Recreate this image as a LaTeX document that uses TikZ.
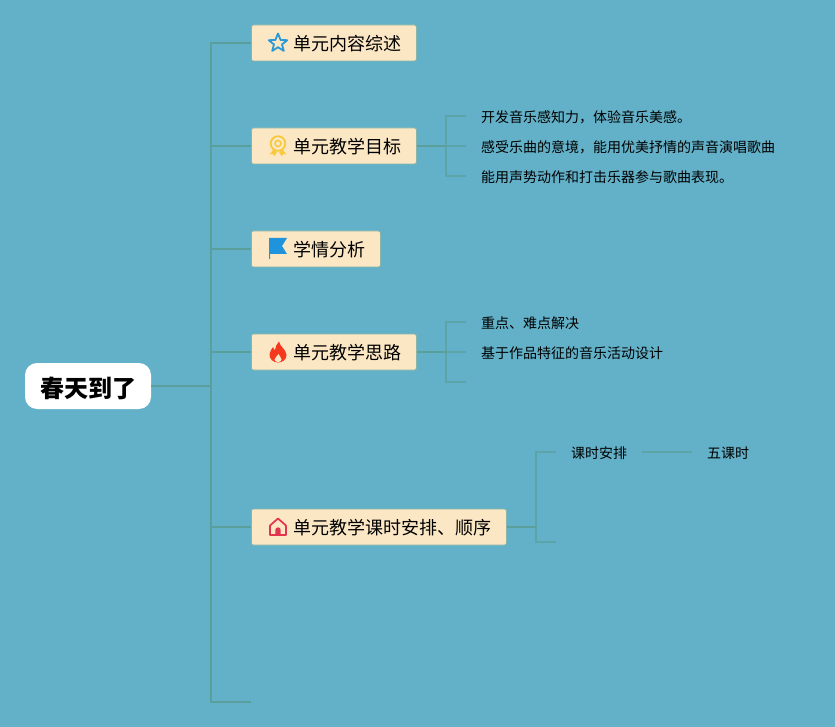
\documentclass[tikz,border=0pt]{standalone}
\usepackage{fontspec}
\setmainfont{Noto Sans CJK SC}
\definecolor{bgblue}{HTML}{62B1C8}
\definecolor{linegreen}{HTML}{5A9F9C}
\definecolor{boxfill}{HTML}{FBE7C4}
\definecolor{iconblue}{HTML}{1F93DB}
\definecolor{icongold}{HTML}{F9C93C}
\definecolor{iconred}{HTML}{F4391F}
\definecolor{iconrose}{HTML}{E2344F}
\tikzset{
    root node/.style={draw=none,fill=white,rounded corners=12,text=black,font=\fontsize{24}{28}\selectfont\bfseries,minimum width=126,minimum height=46,inner sep=0,text height=25pt,text depth=3pt},
    topic node/.style={anchor=west,draw=linegreen!70!boxfill,fill=boxfill,rounded corners=2,line width=0.8,text=black,font=\fontsize{18}{22}\selectfont,minimum height=36,inner ysep=0,inner xsep=15,text height=19pt,text depth=3.4pt,execute at begin node={\hspace*{27pt}}},
    sub node/.style={anchor=west,text=black,font=\fontsize{14}{18}\selectfont,inner ysep=0,inner xsep=15,text height=15pt,text depth=2.4pt},
    link/.style={draw=linegreen,line width=1.3},
    thin link/.style={draw=linegreen!75!bgblue,line width=1.1},
    star icon/.pic={
        \draw[iconblue!80!bgblue,line width=1.8,line join=round] (0,-9.5)--(2.6,-3)--(9.3,-2.8)--(4,1.4)--(5.8,8)--(0,4.2)--(-5.8,8)--(-4,1.4)--(-9.3,-2.8)--(-2.6,-3)--cycle;
    },
    medal icon/.pic={
        \draw[icongold,line width=1.8] (0,-2.5) circle (7.3);
        \draw[icongold,line width=1.5] (0,-2.5) circle (3);
        \fill[icongold] (-5,4)--(-8.5,8.5)--(-5.5,8)--(-3.5,10)--(-1,6)--cycle;
        \fill[icongold] (5,4)--(8.5,8.5)--(5.5,8)--(3.5,10)--(1,6)--cycle;
    },
    flag icon/.pic={
        \fill[iconblue] (-9,-11)--(9,-11)--(4,-3)--(9,5)--(-8,5)--(-8,10)--(-9,10)--cycle;
    },
    flame icon/.pic={
        \fill[iconred] (1,-10.5) .. controls (2,-5) and (8,-3) .. (8.5,3) .. controls (8.5,8) and (4,10.5) .. (0,10.5) .. controls (-5,10.5) and (-8.5,7) .. (-8.5,2.5) .. controls (-8.5,-1) and (-6,-3) .. (-5,-5) .. controls (-4.5,-3.5) and (-4,-2.5) .. (-3,-2) .. controls (-2.5,-5) and (-1.5,-8) .. (1,-10.5) -- cycle;
        \fill[boxfill] (0.5,2) .. controls (1,4) and (3.5,5) .. (3.5,7.5) .. controls (3.5,9) and (2,10) .. (0,10) .. controls (-2,10) and (-3.5,9) .. (-3.5,7.5) .. controls (-3.5,5.5) and (-0.5,4.5) .. (0.5,2) -- cycle;
    },
    house icon/.pic={
        \draw[iconrose,line width=1.7,line join=round] (-8,8)--(-8,-1.5)--(0,-8.5)--(8,-1.5)--(8,8)--cycle;
        \fill[iconrose] (-2.7,8)--(-2.7,3) arc[start angle=180,end angle=360,radius=2.7]--(2.7,8)--cycle;
    }
}
\begin{document}
\begin{tikzpicture}[x=1pt,y=-1pt]
    \path[use as bounding box,fill=bgblue] (0,0) rectangle (835,727);
    % level one
    \node(root)[root node] at (88,386){春天到了};
    \node(content)[topic node] at (251,43){单元内容综述};
    \node(goal)[topic node] at (251,146){单元教学目标};
    \node(study)[topic node] at (251,249){学情分析};
    \node(idea)[topic node] at (251,352){单元教学思路};
    \node(hours)[topic node] at (251,527){单元教学课时安排、顺序};
    \coordinate(blank) at (251,702);
    \coordinate(spine) at (211,386);
    % level two
    \node(goala)[sub node] at (466,116){开发音乐感知力，体验音乐美感。};
    \node(goalb)[sub node] at (466,146){感受乐曲的意境，能用优美抒情的声音演唱歌曲};
    \node(goalc)[sub node] at (466,176){能用声势动作和打击乐器参与歌曲表现。};
    \coordinate(goalfork) at (446,146);
    \node(ideaa)[sub node] at (466,322){重点、难点解决};
    \node(ideab)[sub node] at (466,352){基于作品特征的音乐活动设计};
    \coordinate(ideac) at (466,382);
    \coordinate(ideafork) at (446,352);
    \node(plan)[sub node] at (556,452){课时安排};
    \coordinate(planend) at (556,542);
    \coordinate(hoursfork) at (536,527);
    \node(five)[sub node] at (692,452){五课时};
    % connectors
    \draw[link] (root.east) -- (spine);
    \foreach \n in {content,goal,study,idea,hours}
        \draw[link] (spine) |- (\n.west);
    \draw[link] (spine) |- (blank);
    \draw[thin link] (goalfork) -- (goalb.west);
    \foreach \n in {goala,goalc}
        \draw[thin link] (goalfork) |- (\n.west);
    \draw[link] (goal.east) -- (goalfork);
    \draw[thin link] (ideafork) -- (ideab.west);
    \draw[thin link] (ideafork) |- (ideaa.west);
    \draw[thin link] (ideafork) |- (ideac);
    \draw[link] (idea.east) -- (ideafork);
    \draw[thin link] (hoursfork) |- (plan.west);
    \draw[thin link] (hoursfork) |- (planend);
    \draw[link] (hours.east) -- (hoursfork);
    \draw[thin link] (plan.east) -- (five.west);
    % icons
    \pic at (278,43) {star icon};
    \pic at (278,146) {medal icon};
    \pic at (278,249) {flag icon};
    \pic at (278,352) {flame icon};
    \pic at (278,527) {house icon};
\end{tikzpicture}
\end{document}
